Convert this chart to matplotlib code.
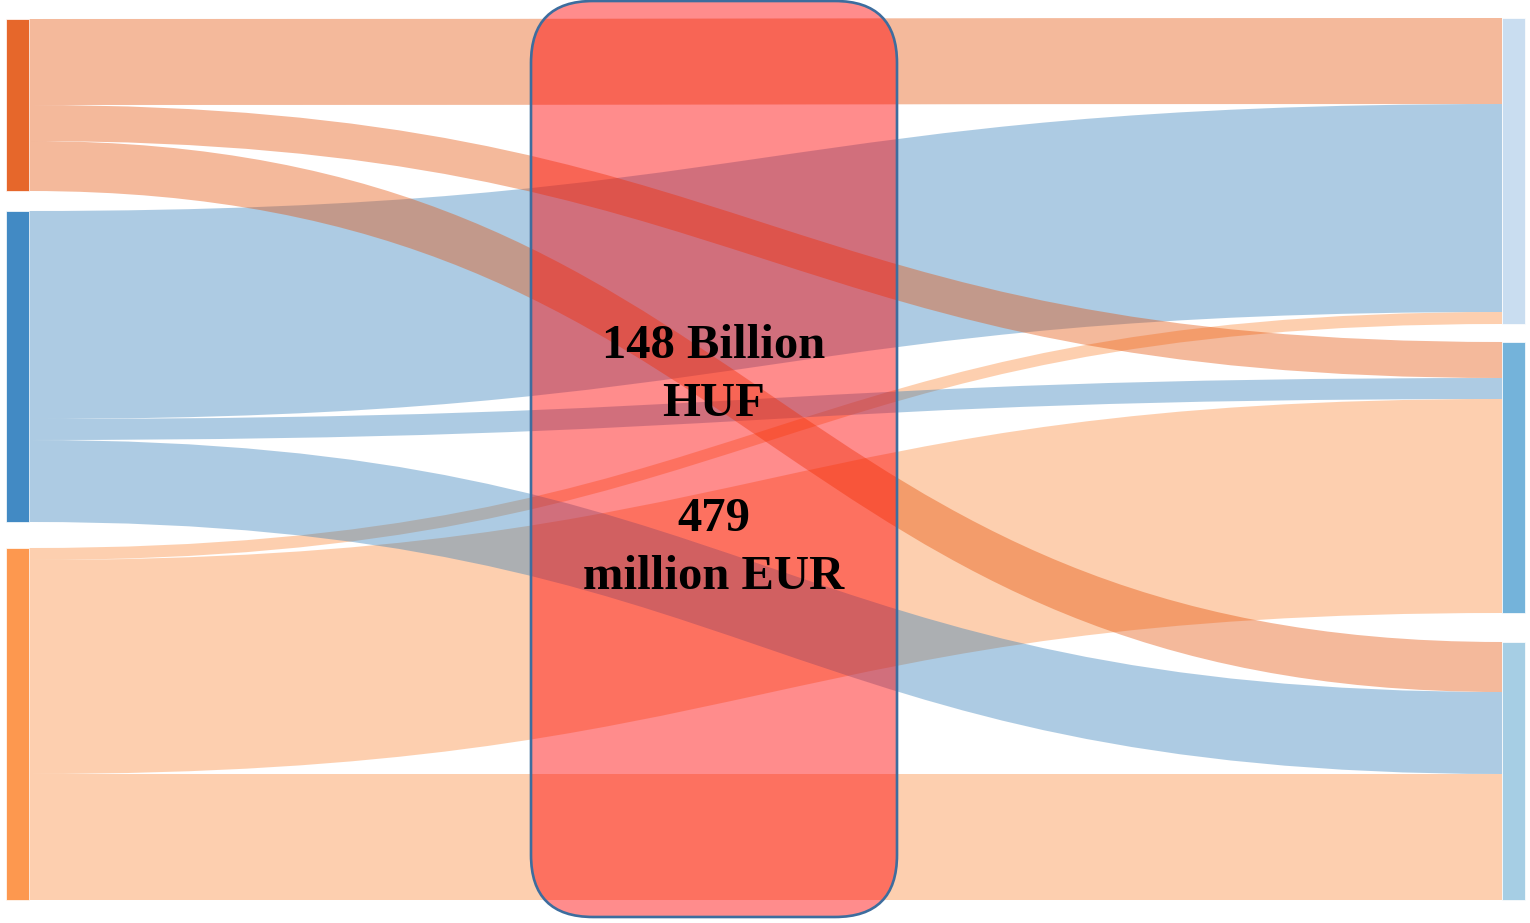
import matplotlib.pyplot as plt
from matplotlib.path import Path
from matplotlib.patches import PathPatch, Rectangle, FancyBboxPatch

# flows between three source groups (left) and three target groups (right)
source_colors = ["#e6672b", "#428ac4", "#fd984f"]
target_colors = ["#c9ddf0", "#74b3da", "#a6cee4"]
flow_colors = ["#e45007", "#347fb9", "#fa8939"]

link_source = [0, 0, 0, 1, 1, 1, 2, 2, 2]
link_target = [0, 1, 2, 0, 1, 2, 0, 1, 2]
link_value = [86, 36, 50, 208, 21, 82, 12, 214, 126]

huf_label = "148 Billion\nHUF"
eur_label = "479\nmillion EUR"

# layout (pixel space)
W, H = 1530, 923
top, bottom = 19, 900
node_w = 23
left_x, right_x = 6, 1502
left_gaps = [20, 26]
right_gaps = [18, 29]

fig = plt.figure(figsize=(W / 100, H / 100), dpi=100)
ax = fig.add_axes([0, 0, 1, 1])
ax.set_xlim(0, W)
ax.set_ylim(H, 0)
ax.axis("off")

n_src = len(source_colors)
n_tgt = len(target_colors)
src_tot = [sum(v for s, v in zip(link_source, link_value) if s == i) for i in range(n_src)]
tgt_tot = [sum(v for t, v in zip(link_target, link_value) if t == j) for j in range(n_tgt)]
scale = (bottom - top - sum(left_gaps)) / sum(link_value)


def stack(totals, gaps, start):
    pos = []
    y = start
    for i, tot in enumerate(totals):
        pos.append(y)
        y += tot * scale
        if i < len(gaps):
            y += gaps[i]
    return pos


src_y = stack(src_tot, left_gaps, top)
tgt_y = stack(tgt_tot, right_gaps, bottom - sum(tgt_tot) * scale - sum(right_gaps))

# link band geometry, stacked in order at both ends
src_off = list(src_y)
tgt_off = list(tgt_y)
x0 = left_x + node_w
x1 = right_x
xm = (x0 + x1) / 2
bands = []
for s, t, v in zip(link_source, link_target, link_value):
    h = v * scale
    ya, yb = src_off[s], tgt_off[t]
    src_off[s] += h
    tgt_off[t] += h
    bands.append((s, ya, yb, h))

# later groups go underneath the earlier ones
for s, ya, yb, h in reversed(bands):
    verts = [(x0, ya), (xm, ya), (xm, yb), (x1, yb),
             (x1, yb + h), (xm, yb + h), (xm, ya + h), (x0, ya + h), (x0, ya)]
    codes = [Path.MOVETO, Path.CURVE4, Path.CURVE4, Path.CURVE4,
             Path.LINETO, Path.CURVE4, Path.CURVE4, Path.CURVE4, Path.CLOSEPOLY]
    ax.add_patch(PathPatch(Path(verts, codes), facecolor=flow_colors[s],
                           alpha=0.4, edgecolor="none", zorder=1))

# nodes
for i in range(n_src):
    ax.add_patch(Rectangle((left_x, src_y[i]), node_w, src_tot[i] * scale,
                           facecolor=source_colors[i], edgecolor="white", lw=0.5, zorder=2))
for j in range(n_tgt):
    ax.add_patch(Rectangle((right_x, tgt_y[j]), node_w, tgt_tot[j] * scale,
                           facecolor=target_colors[j], edgecolor="white", lw=0.5, zorder=2))

# highlight box with totals
bx0, bx1, by0, by1 = 531, 897, 1, 917
box = FancyBboxPatch((bx0, by0), bx1 - bx0, by1 - by0,
                     boxstyle="round,pad=0,rounding_size=62",
                     facecolor=(1, 0, 0, 0.45), edgecolor="#3d6d9e", lw=1.9, zorder=3)
ax.add_patch(box)

cx = (bx0 + bx1) / 2
ax.text(cx, 375, huf_label, ha="center", va="center", fontsize=35,
        fontweight="bold", family="Liberation Serif", linespacing=1.4, zorder=4)
ax.text(cx, 548, eur_label, ha="center", va="center", fontsize=35,
        fontweight="bold", family="Liberation Serif", linespacing=1.4, zorder=4)

fig.savefig("out.png", dpi=100)
